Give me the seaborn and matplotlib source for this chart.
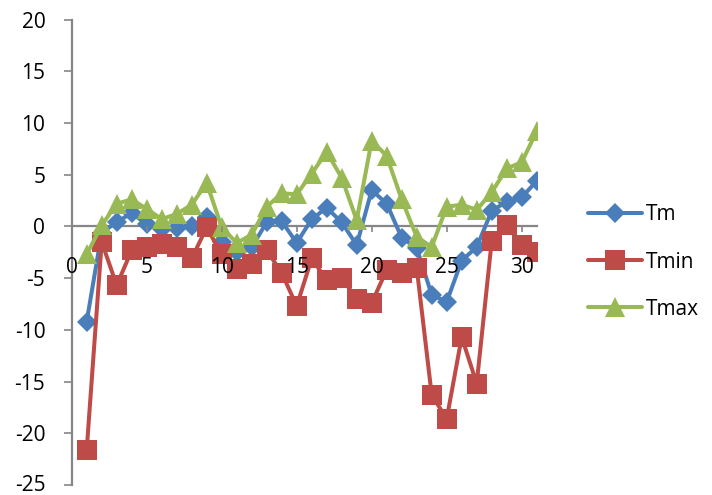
import numpy as np
import pandas as pd
import matplotlib
matplotlib.use("Agg")
import matplotlib.pyplot as plt
import seaborn as sns

days = list(range(1, 32))
tm = [-9.2, -0.6, 0.4, 1.3, 0.2, -0.3, -0.2, 0.0, 0.9, -1.5, -2.5, -2.0, 0.4, 0.5, -1.6,
      0.7, 1.8, 0.4, -1.8, 3.5, 2.2, -1.1, -2.1, -6.6, -7.3, -3.3, -2.0, 1.5, 2.4, 2.8, 4.4]
tmin = [-21.6, -1.5, -5.7, -2.3, -2.0, -1.7, -2.0, -3.1, -0.1, -2.7, -4.1, -3.6, -2.3, -4.5, -7.7,
        -3.1, -5.2, -5.0, -7.0, -7.4, -4.2, -4.5, -4.0, -16.3, -18.6, -10.7, -15.2, -1.4, 0.1, -1.8, -2.5]
tmax = [-2.7, 0.1, 2.2, 2.6, 1.7, 0.7, 1.2, 2.1, 4.2, -0.1, -1.6, -0.8, 1.9, 3.2, 3.1,
        5.1, 7.2, 4.7, 0.6, 8.3, 6.8, 2.6, -1.0, -2.0, 1.9, 2.1, 1.6, 3.3, 5.6, 6.2, 9.2]
series_names = ["Tm", "Tmin", "Tmax"]
y_ticks = [-25, -20, -15, -10, -5, 0, 5, 10, 15, 20]
x_ticks = [0, 5, 10, 15, 20, 25, 30]

df = pd.concat([
    pd.DataFrame({"day": days, "value": vals, "series": name})
    for name, vals in zip(series_names, [tm, tmin, tmax])
], ignore_index=True)

sns.set_theme(style="white")
plt.rcParams["font.family"] = ["Open Sans", "DejaVu Sans"]
plt.rcParams["axes.unicode_minus"] = False

colors = {"Tm": "#4A7EBB", "Tmin": "#BE4B48", "Tmax": "#98B954"}
markers = {"Tm": "D", "Tmin": "s", "Tmax": "^"}
msizes = {"Tm": 10, "Tmin": 14, "Tmax": 14}

fig = plt.figure(figsize=(7.12, 4.95), dpi=100)
ax = fig.add_axes([0.1007, 0.0202, 0.6531, 0.9404])

for name in series_names:
    sub = df[df["series"] == name]
    sns.lineplot(data=sub, x="day", y="value", ax=ax, color=colors[name],
                 marker=markers[name], markersize=msizes[name], markeredgewidth=0,
                 linewidth=2.9, label=name, zorder=3)

ax.set_xlim(0, 31)
ax.set_ylim(-25, 20)
ax.set_xlabel("")
ax.set_ylabel("")
ax.set_yticks(y_ticks)
ax.set_yticklabels([str(t) for t in y_ticks])
ax.set_xticks(x_ticks)
ax.set_xticklabels([str(t) for t in x_ticks])

for side in ["top", "right"]:
    ax.spines[side].set_visible(False)
ax.spines["left"].set_position(("data", 0))
ax.spines["bottom"].set_position(("data", 0))
for side in ["left", "bottom"]:
    ax.spines[side].set_color("#868686")
    ax.spines[side].set_linewidth(1.6)
    ax.spines[side].set_zorder(1)

ax.tick_params(axis="y", direction="out", length=6, width=1.2, color="#868686",
               labelsize=15, labelcolor="black", left=True, pad=13)
ax.tick_params(axis="x", direction="out", length=4.5, width=1.2, color="#868686",
               labelsize=15, labelcolor="black", bottom=True, pad=17.5)
# keep the lowest value label inside the canvas
ax.get_yticklabels()[0].set_verticalalignment("center")
# category labels sit on top of the series lines
ax.xaxis.set_zorder(5)

leg = ax.legend(loc="center left", bbox_to_anchor=(1.11, 0.479), frameon=False, fontsize=15,
                handlelength=2.6, handletextpad=0.2, labelspacing=1.26,
                borderpad=0, borderaxespad=0)
for t in leg.get_texts():
    t.set_color("black")

fig.savefig("out.png", dpi=100)
